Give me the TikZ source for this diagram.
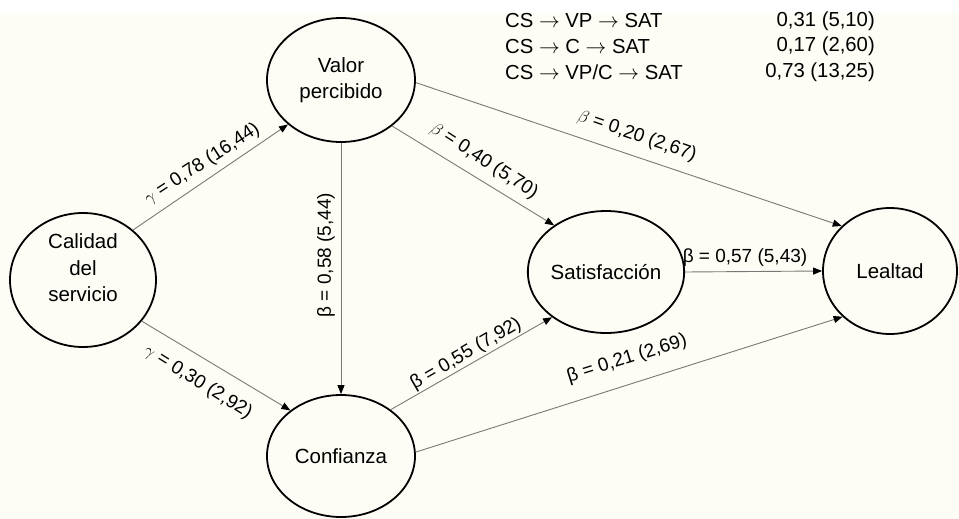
\documentclass[tikz,border=0pt]{standalone}
\usepackage{fontspec}
\setmainfont{Liberation Sans}
\usetikzlibrary{arrows.meta,shapes.geometric}
\definecolor{bgcream}{RGB}{253,253,245}
\definecolor{edgegray}{RGB}{120,120,120}
\tikzset{
  latent/.style={draw=black, line width=1.8pt, ellipse, inner sep=0pt, align=center,
    font=\fontsize{20.5}{26.5}\selectfont},
  pathedge/.style={draw=edgegray, line width=0.9pt, -{Triangle[length=9pt,width=7pt,fill=black,color=black]}},
  lab/.style={font=\fontsize{19}{21}\selectfont, inner sep=0pt},
  tab/.style={font=\fontsize{20.3}{22}\selectfont, inner sep=0pt}
}
\begin{document}
\begin{tikzpicture}[x=1pt,y=-1pt]
\fill[bgcream] (0,0) rectangle (959,519);
\fill[white] (0,0) rectangle (959,13);
\useasboundingbox (0,0) rectangle (959,519);
% latent variables
\node[latent, minimum width=146pt, minimum height=134pt] (cs) at (83,280) {};
\node[align=center, inner sep=0pt, font=\fontsize{20.5}{26.5}\selectfont] (cstext) at (83,268) {Calidad\\del\\servicio};
\node[latent, minimum width=148pt, minimum height=124pt] (vp) at (341,80) {Valor\\percibido};
\node[latent, minimum width=148pt, minimum height=122pt] (cf) at (341,456) {Confianza};
\node[latent, minimum width=142pt, minimum height=122pt] (sat) at (606,272) {Satisfacción};
\node[latent, minimum width=134pt, minimum height=126pt] (le) at (890,271) {Lealtad};
% paths
\draw[pathedge] (cs.45) -- (vp.220);
\draw[pathedge] (cs.-35) -- (cf.138);
\draw[pathedge] (vp.south) -- (cf.north);
\draw[pathedge] (vp.-42) -- (sat.138);
\draw[pathedge] (vp.-2) -- (le.137);
\draw[pathedge] (cf.43) -- (sat.220);
\draw[pathedge] (cf.3) -- (le.224);
\draw[pathedge] (sat.east) -- (le.west);
% path labels
\node[lab, rotate=33] (l1) at (202,164) {$\gamma$ = 0,78 (16,44)};
\node[lab, rotate=-32] (l2) at (198,382) {$\gamma$ = 0,30 (2,92)};
\node[lab, rotate=90] (l3) at (326,255) {β = 0,58 (5,44)};
\node[lab, rotate=-33] (l4) at (484,161) {$\beta$ = 0,40 (5,70)};
\node[lab, rotate=-19] (l5) at (637,136) {$\beta$ = 0,20 (2,67)};
\node[lab, rotate=30] (l6) at (466,354) {β = 0,55 (7,92)};
\node[lab, rotate=17.5] (l7) at (627,359) {β = 0,21 (2,69)};
\node[lab] (l8) at (745,258) {β = 0,57 (5,43)};
% indirect effects table
\node[tab, anchor=west] (t1a) at (505,21) {CS $\rightarrow$ VP $\rightarrow$ SAT};
\node[tab, anchor=west] (t2a) at (505,46.5) {CS $\rightarrow$ C $\rightarrow$ SAT};
\node[tab, anchor=west] (t3a) at (505,72) {CS $\rightarrow$ VP/C $\rightarrow$ SAT};
\node[tab, anchor=east] (t1b) at (875,21) {0,31 (5,10)};
\node[tab, anchor=east] (t2b) at (875,46.5) {0,17 (2,60)};
\node[tab, anchor=east] (t3b) at (875,72) {0,73 (13,25)};
\end{tikzpicture}
\end{document}
